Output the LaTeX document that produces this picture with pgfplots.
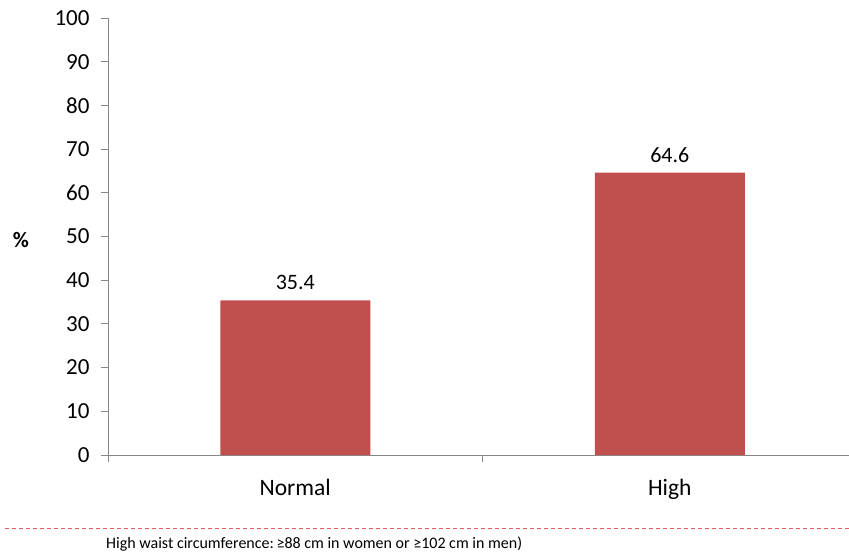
\documentclass[border=0pt]{standalone}
\usepackage{pgfplots}
\pgfplotsset{compat=1.18}
\usepackage{fontspec}
\setmainfont{Carlito}
\definecolor{barred}{HTML}{C0504D}
\definecolor{axisgray}{HTML}{868686}
\definecolor{dashred}{HTML}{E35B5B}

\begin{document}
\begin{tikzpicture}
\path[use as bounding box] (0,0) rectangle (849bp,554bp);
\begin{axis}[
  at={(108bp,99bp)}, anchor=south west,
  scale only axis, width=741bp, height=437bp,
  xmin=0, xmax=1.9786, ymin=0, ymax=100,
  axis x line*=bottom, axis y line*=left,
  axis line style={axisgray, line width=0.9bp},
  ytick={0,10,...,100},
  xtick={0,1,2}, xticklabels={},
  extra x ticks={0.5,1.5},
  extra x tick labels={Normal,High},
  extra x tick style={major tick length=0pt,
    xticklabel style={font=\fontsize{23.5bp}{26bp}\selectfont, yshift=-21bp}},
  tick align=outside, major tick length=7bp,
  tick style={axisgray, line width=0.9bp},
  yticklabel style={font=\fontsize{23bp}{26bp}\selectfont, xshift=-8bp},
  /pgf/number format/assume math mode=true,
  ybar, bar width=150bp,
  nodes near coords={\pgfmathprintnumber[fixed,fixed zerofill,precision=1]{\pgfplotspointmeta}},
  nodes near coords style={font=\fontsize{22bp}{24bp}\selectfont, black, yshift=7bp},
  clip=false,
]
\addplot[fill=barred, draw=none] coordinates {(0.5,35.4) (1.5,64.6)};
\end{axis}
\node[font=\bfseries\fontsize{22bp}{24bp}\selectfont] at (21bp,314bp) {\%};
\draw[dashred, dash pattern=on 4bp off 3bp, line width=0.8bp] (5bp,26bp) -- (849bp,26bp);
\node[anchor=base west, inner sep=0pt, font=\fontsize{16bp}{18bp}\selectfont]
  at (106bp,6bp) {High waist circumference:\,≥88 cm in women or ≥102 cm in men)};
\end{tikzpicture}
\end{document}
